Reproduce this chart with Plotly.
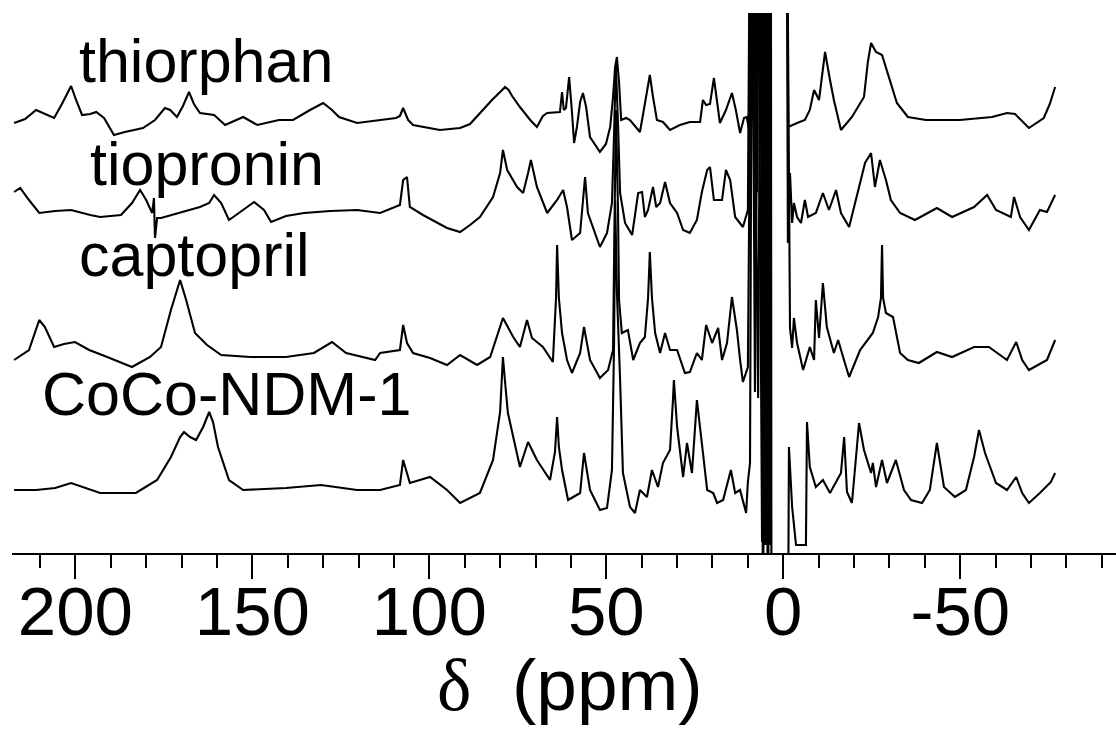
import plotly.graph_objects as go

# ---------------- data (ppm, intensity above each trace's own baseline) ----------------
thio_ppm = [217.3, 214.2, 211.1, 208.3, 206.0, 203.8, 201.2, 199.8, 198.1, 195.8, 194.1, 191.9, 189.1, 186.0,
            180.9, 177.5, 174.7, 173.2, 171.3, 169.6, 167.9, 166.5, 164.8, 160.8, 157.7, 152.6, 148.6, 142.5, 138.5,
            133.7, 130.0, 127.5, 125.5, 120.4, 113.9, 109.4, 108.3, 107.4, 106.0, 104.6, 97.0, 91.3, 88.5, 85.7,
            82.3, 80.0, 78.6, 77.6, 76.6, 74.4, 71.5, 69.6, 67.9, 66.7, 64.2, 63.1, 62.5, 62.0, 61.4, 60.5, 59.7, 59.1, 58.3,
            57.4, 56.6, 55.7, 54.6, 51.8, 50.1, 48.9, 48.1, 47.5, 47.0, 46.4, 45.8, 44.4, 43.3, 41.9, 40.5, 39.6,
            38.5, 37.7, 36.8, 35.7, 34.0, 32.0, 29.2, 26.4, 23.5, 22.7, 21.8, 20.7, 19.6, 18.7, 17.9, 16.2, 14.5,
            13.4, 12.2, 11.1, 10.3, 9.7,
            8.8, 7.4, 6.6, 5.2, 4.6, 3.8, 3.2, -0.6, -1.4,
            -3.9, -6.1, -7.5, -8.7, -10.1, -11.8, -13.2, -14.3, -16.3, -19.4, -22.8, -23.9, -24.8, -26.2, -27.9,
            -29.9, -32.1, -35.2, -40.3, -49.9, -59.0, -63.2, -65.5, -69.4, -73.6, -75.3, -76.8]
thio_int = [-1, 3, 12, 8, 4, 18, 36, 22, 7, 8, 10, 4, -13, -10,
            -6, 2, 14, 12, 5, 16, 30, 18, 9, 7, -3, 5, -3, 2, 2,
            12, 19, 12, 5, -1, 2, 4, 6, 14, 2, -3, -8, -6, -2, 9,
            22, 30, 35, 32, 26, 15, 2, -5, 6, 9, 10, 10, 30, 12, 14, 45, 10, -21, -5,
            20, 29, 15, -15, -30, -22, -5, 25, 55, 65, 40, 2, 4, 2, -4, -10, 8,
            30, 47, 25, 2, 0, -8, -3, 0, 0, 22, 17, 18, 44, 20, -1, 12, 29,
            12, -11, 4, 5, -8,
            500, -70, 500, -200, 500, -160, 500, 500, -5,
            -1, 2, 12, 32, 22, 70, 42, 22, -8, 5, 25, 60, 79, 70, 67,
            45, 19, 5, 2, 2, 5, 9, 8, -6, 4, 18, 35]

tiop_ppm = [217.3, 215.6, 213.1, 210.2, 205.7, 201.2, 195.8, 193.0, 187.1, 184.0, 181.7, 180.0, 178.3, 177.8,
            177.5, 176.9, 175.8, 170.7, 164.8, 162.2, 160.8, 158.8, 156.6, 154.6, 152.6, 149.5, 146.7, 144.7,
            140.5, 135.4, 128.0, 120.4, 113.9, 108.3, 107.4, 106.3, 105.5, 101.8, 95.0, 91.3, 88.5, 85.7, 82.0,
            80.0, 79.2, 78.0, 75.2, 73.5, 72.1, 71.3, 69.6, 66.7, 63.9, 62.2, 61.1, 59.7, 57.4, 56.6, 56.0, 55.2,
            51.8, 49.8, 48.4, 47.8, 47.3, 46.7, 46.1, 44.7, 42.7, 41.0, 39.9, 39.1, 38.2, 36.8, 35.9, 34.8, 33.4,
            32.0, 30.0, 28.3, 26.4, 24.4, 23.0, 21.5, 20.7, 19.6, 17.3, 16.2, 15.0, 13.6, 11.4, 10.0,
            9.1, 7.7, 6.9, 5.5, 4.9, 4.0, 3.5, -0.8, -1.3, -1.9, -2.5, -3.0,
            -3.9, -5.0, -6.1, -7.0, -9.2, -11.2, -12.9, -14.9, -16.3, -18.6, -20.5, -23.1, -24.8, -25.9, -27.3,
            -29.0, -30.4, -33.0, -37.2, -43.4, -47.7, -53.9, -57.6, -60.1, -64.3, -65.2, -66.9, -69.4, -72.5,
            -74.5, -76.8]
tiop_int = [21, 25, 13, 0, 2, 3, -2, -4, -2, 10, 23, 13, 0, 15,
            -25, -5, -5, 0, 6, 10, 18, 10, -7, -2, 3, 11, 3, -9,
            -3, 0, 2, 3, 0, 8, 33, 36, 6, -2, -15, -19, -12, -4, 16,
            40, 63, 43, 26, 20, 40, 53, 26, 0, 13, 23, 6, -27, -20, 10, 36, 0,
            -34, -20, 10, 80, 148, 90, 20, -10, -22, 20, 21, -4, 3, 26, 6, 10, 31,
            10, 0, -17, -20, -7, 21, 43, 46, 13, 13, 43, 33, -4, -14, 3,
            500, -40, 500, -250, 500, -250, 500, 500, -30, 40, -10, 10,
            -4, -10, 13, -4, 0, 20, 3, 23, 0, -14, 13, 50, 60, 26, 53,
            33, 13, 0, -7, 5, -4, 6, 18, 3, -4, 16, -4, -17, 3,
            1, 18]

capt_ppm = [217.3, 213.1, 210.2, 208.6, 206.0, 203.2, 200.1, 196.1, 191.0, 184.0, 178.9, 175.8, 173.0, 170.4,
            168.7, 166.2, 162.8, 158.8, 150.6, 140.5, 132.6, 127.5, 123.5, 115.3, 113.9, 108.3, 107.4, 106.3,
            104.6, 99.8, 95.0, 91.3, 86.5, 82.8, 79.2, 76.3, 74.4, 72.4, 71.0, 67.9, 65.1, 64.2, 63.9, 63.4,
            62.5, 61.1, 59.7, 57.4, 56.3, 54.6, 51.8, 49.5, 48.1, 47.8, 47.3, 46.7, 46.4, 45.6, 43.9, 42.4, 40.5,
            39.1, 38.2, 37.7, 37.1, 36.2, 34.8, 33.4, 32.0, 30.0, 27.8, 26.4, 24.4, 23.0, 21.8, 20.1, 18.4, 17.3,
            15.9, 14.5, 13.6, 13.1, 12.2, 11.4, 10.0,
            8.8, 7.1, 6.3, 5.7, 5.2, 4.3, 3.8, -1.0, -1.9, -2.5, -3.0,
            -3.9, -5.6, -7.5, -8.7, -9.2, -10.1, -11.2, -12.3, -14.3, -15.5, -16.9, -18.6, -21.7, -25.3, -26.8,
            -27.6, -27.9, -28.2, -29.0, -31.0, -33.0, -35.2, -38.3, -43.4, -47.7, -53.9, -58.1, -63.2, -65.8,
            -67.5, -69.4, -74.5, -76.8]
capt_int = [-2, 8, 38, 31, 11, 14, 16, 8, 1, -9, 1, 11, 48, 78,
            58, 25, 13, 3, 1, 1, 5, 16, 5, -2, 5, 8, 33, 15,
            5, 0, -7, 3, -7, 1, 40, 21, 11, 38, 20, 11, -4, 60, 113, 60,
            25, -2, -15, 5, 31, -2, -20, -12, 8, 100, 248, 150, 58, 25, 28, -2, 15,
            21, 60, 106, 60, 25, 5, 25, 8, 8, -15, -14, 5, -2, 33, 15, 30, -2,
            15, 61, 41, 28, -2, -24, -9,
            500, -40, 500, -350, 500, -350, 500, 500, 30, 10, 40,
            15, -12, 11, -2, 58, 20, 75, 31, 5, 18, 1, -19, 8, 25, 41,
            60, 113, 60, 45, 41, 5, -2, -5, 6, 1, 11, 11, -2, 16,
            -2, -12, -2, 18]

coco_ppm = [217.3, 211.1, 205.7, 201.2, 193.0, 182.9, 176.9, 173.0, 170.4, 169.3, 167.6, 165.9, 163.9, 162.2,
            161.1, 159.7, 156.6, 152.6, 140.5, 130.6, 120.4, 113.9, 108.3, 107.4, 105.5, 99.8, 95.0, 91.3, 85.7,
            82.0, 80.0, 79.2, 78.6, 77.8, 74.4, 72.1, 69.6, 65.9, 64.5, 63.9, 63.4, 62.5, 60.8, 57.4, 56.3, 54.6,
            51.8, 49.8, 48.4, 47.8, 47.5, 47.0, 46.1, 45.3, 43.3, 41.9, 40.5, 38.5, 37.1, 35.4, 34.0, 32.0, 31.2,
            30.9, 30.0, 28.3, 27.2, 25.8, 24.4, 23.0, 21.5, 19.8, 18.7, 17.0, 14.8, 13.6, 12.2, 10.5, 10.0, 9.4,
            8.8, 8.0, 7.1, 6.0, 5.7, 5.5, 5.2, 4.9, 4.6, 4.3, 4.0, 3.8, 3.5, 3.2, -0.5, -1.6, -2.5, -3.6, -6.4, -6.7,
            -7.5, -9.2, -11.2, -13.2, -16.3, -17.2, -18.0, -19.4, -21.4, -22.8, -24.8, -25.3, -26.2, -27.9, -29.3,
            -31.8, -34.1, -36.1, -39.2, -41.4, -43.4, -45.4, -48.5, -51.6, -53.9, -55.3, -57.0, -60.1, -63.2,
            -65.8, -67.5, -69.4, -72.5, -75.6, -76.8]
coco_int = [2, 2, 4, 9, -1, -1, 12, 35, 55, 60, 55, 52, 65, 80,
            70, 45, 12, 2, 4, 7, 2, 2, 7, 32, 9, 15, 2, -11, -1,
            32, 80, 135, 110, 79, 25, 50, 32, 12, 40, 75, 45, 22, -8, -1, 39, 2,
            -18, -16, 22, 150, 292, 200, 112, 19, -15, -21, 2, -5, 22, 5, 29, 42, 90,
            112, 65, 15, 49, 19, 92, 49, 2, -1, -11, -8, 22, -1, 2, -21, 10, 29,
            600, 100, 600, -50, 600, -53, 600, -53, 600, -53, 600, -53, 600, -800, -800, 45, -15, -53, -53, 70,
            25, 5, 12, -1, 19, 55, 0, -11, 69, 42, 19, 29, 5, 32, 9,
            32, 2, -8, -11, 2, 49, 5, -5, 2, 35, 62, 39, 9, 2,
            15, -1, -11, -1, 10, 19]

names = ["thiorphan", "tiopronin", "captopril", "CoCo-NDM-1"]
spectra_ppm = [thio_ppm, tiop_ppm, capt_ppm, coco_ppm]
spectra_int = [thio_int, tiop_int, capt_int, coco_int]
offsets = [431, 340, 195, 61]          # vertical stacking offset of each spectrum

major_ticks = [200, 150, 100, 50, 0, -50]
tick_text = ["200", "150", "100", "50", "0", "-50"]
minor_ticks = list(range(210, -91, -10))

for p, v, n in zip(spectra_ppm, spectra_int, names):
    if len(p) != len(v):
        raise ValueError(f"{n}: {len(p)} ppm vs {len(v)} intensities")

# ---------------- figure ----------------
SANS = "Liberation Sans, Arial, sans-serif"
fig = go.Figure()
for p, v, off, n in zip(spectra_ppm, spectra_int, offsets, names):
    fig.add_trace(go.Scatter(x=p, y=[off + a for a in v], mode="lines", name=n,
                             line=dict(color="black", width=2.1), showlegend=False,
                             hoverinfo="skip"))

# label positions (ppm, stacked intensity)
label_pos = [(199.5, 492), (196.4, 389), (199.5, 298), (209.9, 159)]
for (lx, ly), n in zip(label_pos, names):
    fig.add_annotation(x=lx, y=ly, xref="x", yref="y", text=n, showarrow=False,
                       xanchor="left", yanchor="middle",
                       font=dict(family=SANS, size=61, color="black"))

# axis title placed as annotation centred under the axis
fig.add_annotation(x=0.5, y=-0.245, xref="paper", yref="paper", xshift=6,
                   text="<span style='font-family:Liberation Serif, Times New Roman, serif'>δ</span>&nbsp; (ppm)",
                   showarrow=False, xanchor="center", yanchor="middle",
                   font=dict(family=SANS, size=73, color="black"))

fig.update_layout(
    width=1116, height=730,
    margin=dict(l=12, r=0, t=13, b=177, autoexpand=False),
    paper_bgcolor="white", plot_bgcolor="white",
    showlegend=False,
    xaxis=dict(range=[217.9, -94.0], showgrid=False, zeroline=False, automargin=False,
               showline=True, linecolor="black", linewidth=2,
               ticks="outside", ticklen=24, tickwidth=2, tickcolor="black",
               tickvals=major_ticks, ticktext=tick_text, ticklabelstandoff=-27,
               tickfont=dict(family=SANS, size=69, color="black"),
               minor=dict(tickvals=minor_ticks, ticks="outside", ticklen=13,
                          tickwidth=2, tickcolor="black", showgrid=False)),
    yaxis=dict(range=[0, 540], visible=False, showgrid=False, zeroline=False, automargin=False),
)

fig.write_html("out.html", config={"displayModeBar": False},
               post_script="document.body.style.margin='0';")
